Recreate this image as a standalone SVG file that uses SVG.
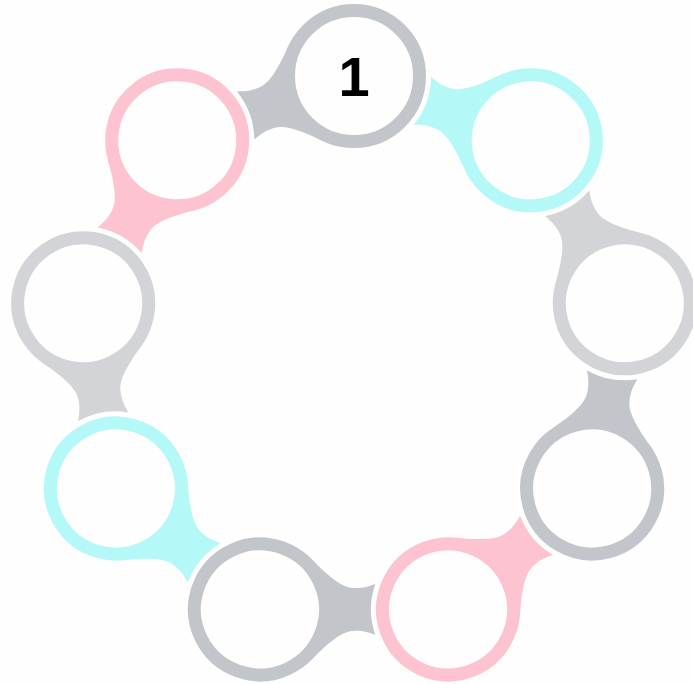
<svg xmlns="http://www.w3.org/2000/svg" xmlns:xlink="http://www.w3.org/1999/xlink" width="693" height="684" viewBox="0 0 693 684">
<style>
.ring{fill:none;stroke:currentColor;stroke-width:13}
.neck{fill:currentColor}
.gd{color:#c2c6cb}
.gl{color:#d2d4d8}
.cy{color:#b4f8f8}
.pk{color:#fdc3d1}
.num{font-family:"Liberation Sans",Arial,sans-serif;font-weight:bold;font-size:56px;fill:#000;text-anchor:middle}
</style>
<defs>
<path id="neckShape" d="M50.9,-50.9 C65,-37 80,-22 93,-21.5 C103,-21 108,-23 115.4,-25.5 A77,77 0 0 0 115.4,25.5 C108,23 103,21 93,21.5 C80,22 65,37 50.9,50.9 L48.1,48.1 A68,68 0 0 0 48.1,-48.1 Z"/>
</defs>
<rect width="693" height="684" fill="#fefefe"/>
<g id="connectors">
<g class="neck gd" transform="rotate(0 354 351) translate(354 76) rotate(160)"><use xlink:href="#neckShape"/></g>
<g class="neck cy" transform="rotate(40 354 351) translate(354 76) rotate(160)"><use xlink:href="#neckShape"/></g>
<g class="neck gl" transform="rotate(80 354 351) translate(354 76) rotate(160)"><use xlink:href="#neckShape"/></g>
<g class="neck gd" transform="rotate(120 354 351) translate(354 76) rotate(160)"><use xlink:href="#neckShape"/></g>
<g class="neck pk" transform="rotate(160 354 351) translate(354 76) rotate(160)"><use xlink:href="#neckShape"/></g>
<g class="neck gd" transform="rotate(200 354 351) translate(354 76) rotate(160)"><use xlink:href="#neckShape"/></g>
<g class="neck cy" transform="rotate(240 354 351) translate(354 76) rotate(160)"><use xlink:href="#neckShape"/></g>
<g class="neck gl" transform="rotate(280 354 351) translate(354 76) rotate(160)"><use xlink:href="#neckShape"/></g>
<g class="neck pk" transform="rotate(320 354 351) translate(354 76) rotate(160)"><use xlink:href="#neckShape"/></g>
</g>
<g id="node1" class="gd"><circle class="ring" cx="354" cy="76" r="65.5"/><text class="num" x="354" y="96">1</text></g>
<g id="node2" class="cy" transform="rotate(40 354 351)"><circle class="ring" cx="354" cy="76" r="65.5"/></g>
<g id="node3" class="gl" transform="rotate(80 354 351)"><circle class="ring" cx="354" cy="76" r="65.5"/></g>
<g id="node4" class="gd" transform="rotate(120 354 351)"><circle class="ring" cx="354" cy="76" r="65.5"/></g>
<g id="node5" class="pk" transform="rotate(160 354 351)"><circle class="ring" cx="354" cy="76" r="65.5"/></g>
<g id="node6" class="gd" transform="rotate(200 354 351)"><circle class="ring" cx="354" cy="76" r="65.5"/></g>
<g id="node7" class="cy" transform="rotate(240 354 351)"><circle class="ring" cx="354" cy="76" r="65.5"/></g>
<g id="node8" class="gl" transform="rotate(280 354 351)"><circle class="ring" cx="354" cy="76" r="65.5"/></g>
<g id="node9" class="pk" transform="rotate(320 354 351)"><circle class="ring" cx="354" cy="76" r="65.5"/></g>
</svg>
